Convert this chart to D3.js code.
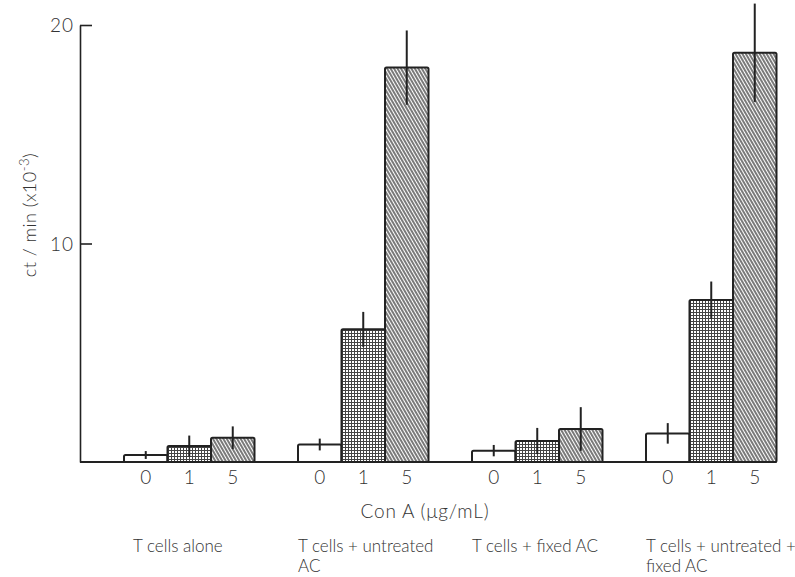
<!DOCTYPE html>
<html lang="en">
<head>
<meta charset="utf-8">
<title>Con A response</title>
<script src="https://d3js.org/d3.v7.min.js"></script>
<style>
  body { margin: 0; background: #fff; }
  svg text { font-family: Lato, "Open Sans", sans-serif; font-weight: 300; fill: #333; }
  .axis path, .axis line { stroke: #222; stroke-width: 1.6; fill: none; }
  .axis text { font-size: 19px; letter-spacing: 1px; }
</style>
</head>
<body>
<div id="chart"></div>
<script>
// data (ct/min x 10^-3)
var groups = ["T cells alone", "T cells + untreated AC", "T cells + fixed AC", "T cells + untreated + fixed AC"];
var groupLines = [["T cells alone"], ["T cells + untreated", "AC"], ["T cells + fixed AC"], ["T cells + untreated +", "fixed AC"]];
var doses = ["0", "1", "5"];
var means = [
  [0.32, 0.73, 1.11],
  [0.80, 6.07, 18.05],
  [0.52, 0.96, 1.51],
  [1.31, 7.41, 18.73]
];
var errs = [
  [0.18, 0.48, 0.52],
  [0.27, 0.80, 1.70],
  [0.26, 0.60, 1.00],
  [0.47, 0.85, 2.25]
];
var yTicks = [10, 20];

var W = 795, H = 577;
var svg = d3.select("#chart").append("svg").attr("width", W).attr("height", H);

// fill patterns
var defs = svg.append("defs");
var grid = defs.append("pattern").attr("id", "grid")
  .attr("patternUnits", "userSpaceOnUse").attr("width", 3).attr("height", 3);
grid.append("rect").attr("width", 3).attr("height", 3).attr("fill", "#fff");
grid.append("path").attr("d", "M0,0.5H3M0.5,0V3").attr("stroke", "#444").attr("stroke-width", 1);

var hatch = defs.append("pattern").attr("id", "hatch")
  .attr("patternUnits", "userSpaceOnUse").attr("width", 3).attr("height", 10)
  .attr("patternTransform", "rotate(-30)");
hatch.append("rect").attr("width", 3).attr("height", 10).attr("fill", "#fff");
hatch.append("line").attr("x1", 1).attr("x2", 1).attr("y1", 0).attr("y2", 10)
  .attr("stroke", "#333").attr("stroke-width", 1.3);

var fills = ["#fff", "url(#grid)", "url(#hatch)"];

var x0 = d3.scaleBand().domain(groups).range([124, 776.5]).paddingInner(0.25);
var x1 = d3.scaleBand().domain(doses).range([0, x0.bandwidth()]);
var y = d3.scaleLinear().domain([0, 20]).range([462, 25]);

var rows = [];
groups.forEach(function(g, i) {
  doses.forEach(function(d, j) {
    rows.push({ group: g, gi: i, dose: d, di: j, v: means[i][j], e: errs[i][j] });
  });
});

// y axis with inward ticks
svg.append("g").attr("class", "axis")
  .attr("transform", "translate(80,0)")
  .call(d3.axisLeft(y).tickValues(yTicks).tickSize(-12).tickSizeOuter(0).tickPadding(6))
  .call(function(g) { g.selectAll("text").attr("dy", "0.35em"); });

svg.append("text")
  .attr("transform", "translate(36,215) rotate(-90)")
  .attr("text-anchor", "middle")
  .style("font-size", "18px").style("letter-spacing", "0.5px")
  .html("ct / min (x10<tspan dy='-7' font-size='13'>-3</tspan><tspan dy='7'>)</tspan>");

// bars
svg.append("g").selectAll("rect").data(rows).join("rect")
  .attr("x", function(d) { return x0(d.group) + x1(d.dose); })
  .attr("y", function(d) { return y(d.v); })
  .attr("width", x1.bandwidth())
  .attr("height", function(d) { return y(0) - y(d.v); })
  .attr("fill", function(d) { return fills[d.di]; })
  .attr("stroke", "#222").attr("stroke-width", 2).attr("rx", 1.5);

// error bars
svg.append("g").selectAll("line").data(rows).join("line")
  .attr("x1", function(d) { return x0(d.group) + x1(d.dose) + x1.bandwidth() / 2; })
  .attr("x2", function(d) { return x0(d.group) + x1(d.dose) + x1.bandwidth() / 2; })
  .attr("y1", function(d) { return y(d.v + d.e); })
  .attr("y2", function(d) { return y(Math.max(0, d.v - d.e)); })
  .attr("stroke", "#222").attr("stroke-width", 2);

// baseline
svg.append("line").attr("x1", 80).attr("x2", x0.range()[1])
  .attr("y1", y(0)).attr("y2", y(0))
  .attr("stroke", "#222").attr("stroke-width", 1.8);

// dose labels
svg.append("g").selectAll("text").data(rows).join("text")
  .attr("x", function(d) { return x0(d.group) + x1(d.dose) + x1.bandwidth() / 2; })
  .attr("y", 484)
  .attr("text-anchor", "middle")
  .style("font-size", "19px")
  .text(function(d) { return d.dose; });

svg.append("text").attr("x", 425).attr("y", 518)
  .attr("text-anchor", "middle").style("font-size", "19px").style("letter-spacing", "0.8px")
  .text("Con A (\u03bcg/mL)");

// group labels, one text per line
var lineRows = [];
groups.forEach(function(g, i) {
  groupLines[i].forEach(function(t, k) { lineRows.push({ group: g, gi: i, k: k, t: t }); });
});
svg.append("g").selectAll("text").data(lineRows).join("text")
  .attr("x", function(d) { return x0(d.group) + (d.gi === 0 ? 9 : 0); })
  .attr("y", function(d) { return 552 + d.k * 20; })
  .style("font-size", "17px")
  .text(function(d) { return d.t; });
</script>
</body>
</html>
